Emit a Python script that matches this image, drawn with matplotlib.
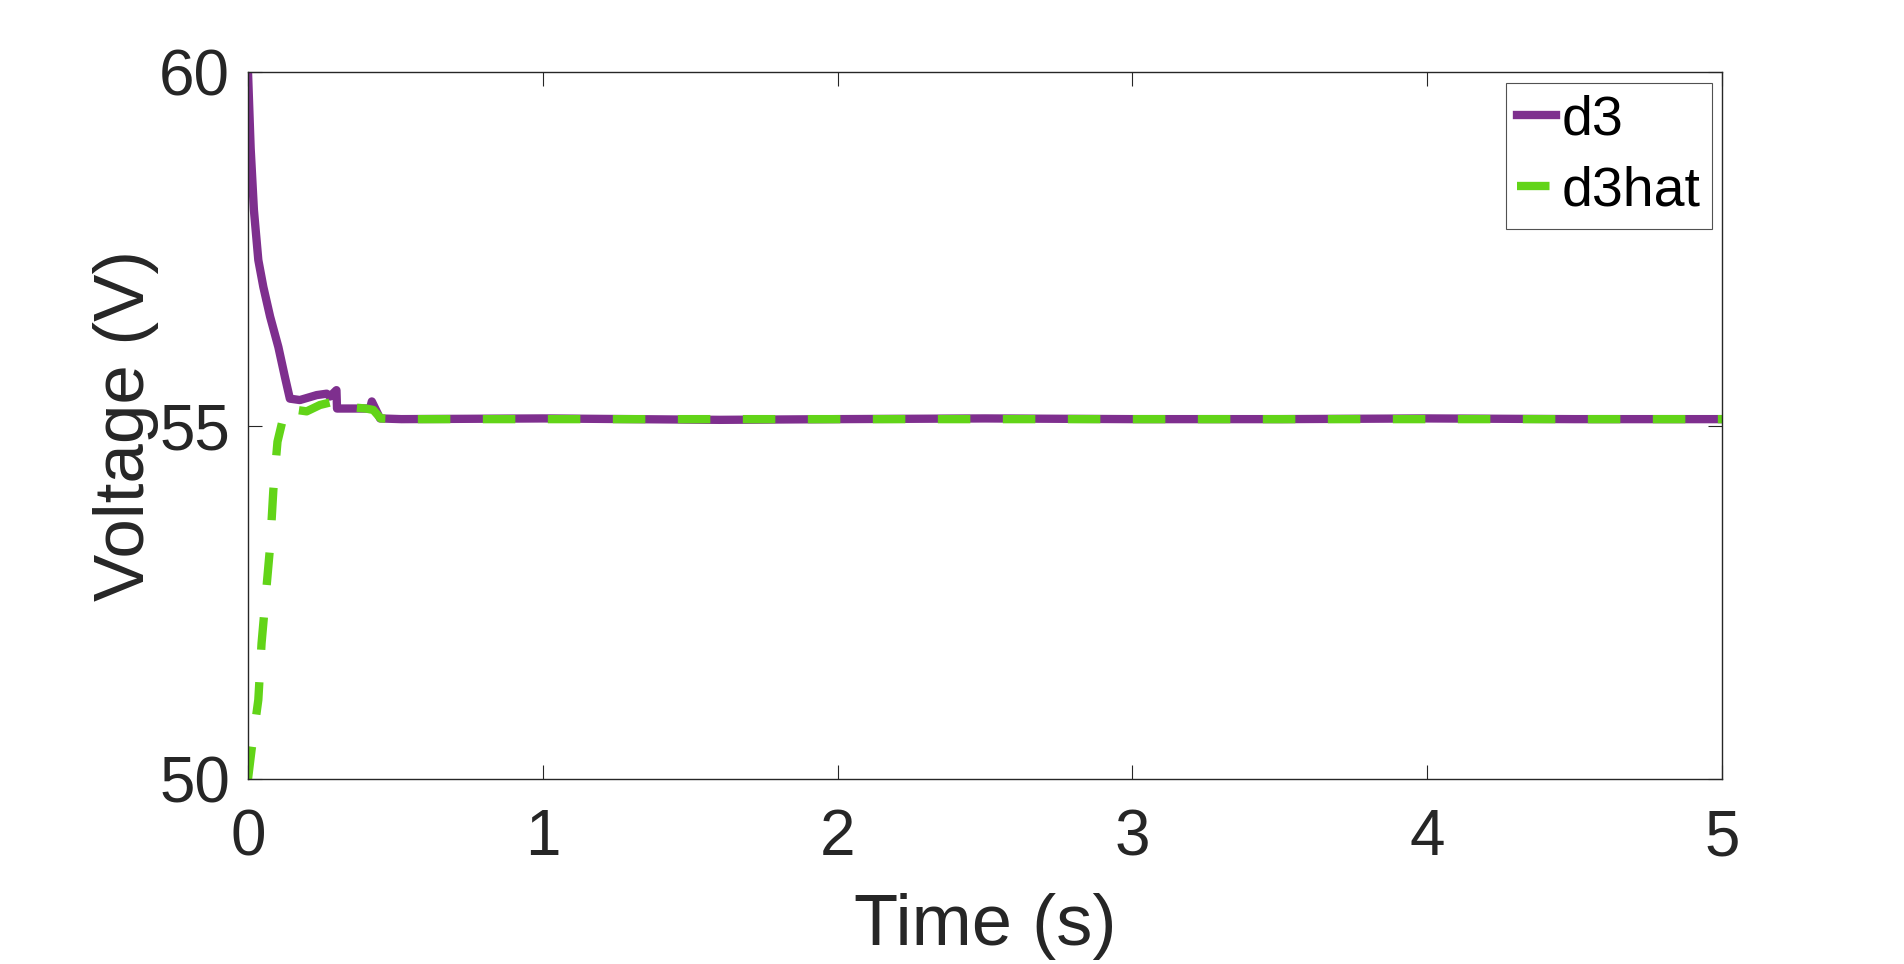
import matplotlib
matplotlib.use("Agg")
from matplotlib import pyplot as plt

t_d3 = [0, 0.009, 0.02, 0.035, 0.052, 0.075, 0.103, 0.125, 0.142, 0.176,
        0.233, 0.267, 0.278, 0.30, 0.302, 0.414, 0.42, 0.448, 0.52,
        1.0, 1.6, 2.0, 2.5, 3.0, 3.5, 4.0, 4.5, 5.0]
v_d3 = [60.0, 58.92, 58.05, 57.34, 56.96, 56.54, 56.11, 55.69, 55.38, 55.36,
        55.43, 55.45, 55.41, 55.50, 55.24, 55.24, 55.34, 55.10, 55.09,
        55.10, 55.08, 55.09, 55.10, 55.09, 55.09, 55.10, 55.09, 55.09]

t_d3hat = [0, 0.012, 0.035, 0.046, 0.061, 0.075, 0.086, 0.10, 0.12, 0.131,
           0.165, 0.199, 0.244, 0.312, 0.318, 0.40, 0.425, 0.45, 0.52,
           1.0, 2.0, 3.0, 4.0, 5.0]
v_d3hat = [50.0, 50.41, 51.12, 51.92, 52.63, 53.29, 54.09, 54.77, 55.12, 55.29,
           55.22, 55.20, 55.29, 55.36, 55.27, 55.24, 55.22, 55.10, 55.09,
           55.09, 55.09, 55.09, 55.09, 55.09]

x_ticks = [0, 1, 2, 3, 4, 5]
y_ticks = [50, 55, 60]

plt.rcParams['font.family'] = ['Liberation Sans', 'DejaVu Sans']
text_color = '#262626'

fig = plt.figure(figsize=(19.04, 9.64), dpi=100)
ax = fig.add_axes([248 / 1904, 1 - 779 / 964, (1722 - 248) / 1904, (779 - 72) / 964])

ax.plot(t_d3, v_d3, color='#7E2F8E', linewidth=6, label='d3')
ax.plot(t_d3hat, v_d3hat, color='#62D418', linewidth=6,
        linestyle=(0, (3.9, 3.9)), label='d3hat')

ax.set_xlim(0, 5)
ax.set_ylim(50, 60)
ax.set_xticks(x_ticks)
ax.set_yticks(y_ticks)

ax.tick_params(direction='in', length=10, width=0.8, labelsize=46,
               colors=text_color, top=True, right=True)
ax.tick_params(axis='x', pad=21)
ax.tick_params(axis='y', pad=13)
for s in ax.spines.values():
    s.set_linewidth(1.0)
    s.set_color(text_color)

ax.set_xlabel('Time (s)', fontsize=52, color=text_color, labelpad=18)
ax.set_ylabel('Voltage (V)', fontsize=51, color=text_color, labelpad=0)

leg = ax.legend(loc='upper right', bbox_to_anchor=(1712 / 1904, 1 - 83 / 964),
                bbox_transform=fig.transFigure, borderaxespad=0, fontsize=40,
                frameon=True, fancybox=False, handlelength=0.7,
                handletextpad=0.1, labelspacing=0.35, borderpad=0.2)
leg.get_frame().set_edgecolor(text_color)
leg.get_frame().set_linewidth(0.8)

fig.savefig("out.png", dpi=100)
